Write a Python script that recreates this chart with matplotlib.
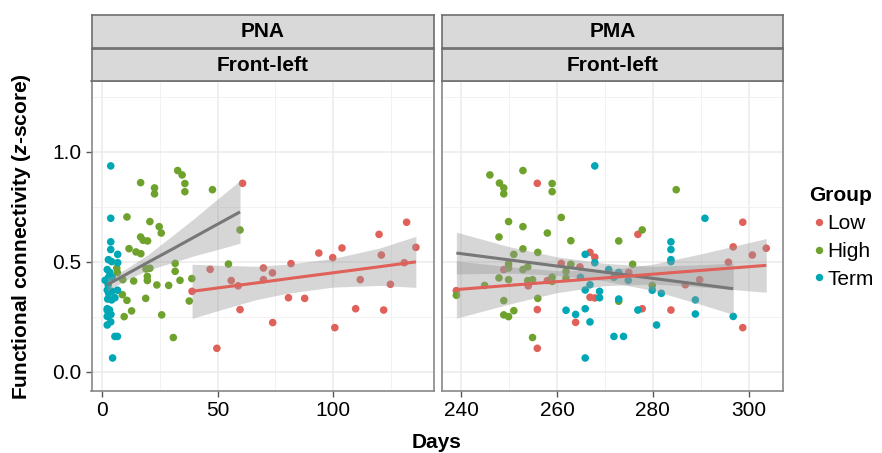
import matplotlib
matplotlib.use('Agg')
import matplotlib.pyplot as plt
from matplotlib.lines import Line2D

plt.rcParams['font.family'] = ['Liberation Sans', 'DejaVu Sans']
plt.rcParams['mathtext.fontset'] = 'custom'
plt.rcParams['mathtext.it'] = 'Liberation Sans:italic:bold'
plt.rcParams['mathtext.rm'] = 'Liberation Sans:bold'

# group colours
c_low = '#E0605A'
c_high = '#6FA22C'
c_term = '#00A7B5'

# ---- PNA panel points (days, z-score)
pna_low_day = [39.0, 46.8, 49.7, 55.9, 58.9, 59.7, 60.8, 69.8, 69.8, 73.7, 73.8, 80.6, 81.7, 87.6,
               93.7, 99.7, 100.6, 103.7, 109.6, 111.6, 119.7, 120.7, 121.7, 124.6, 130.6, 131.6, 135.6]
pna_low_fc = [0.365, 0.465, 0.106, 0.414, 0.39, 0.282, 0.856, 0.471, 0.418, 0.449, 0.223, 0.336, 0.491, 0.333,
              0.539, 0.518, 0.2, 0.562, 0.286, 0.418, 0.624, 0.53, 0.28, 0.397, 0.495, 0.679, 0.565]

pna_high_day = [32.8, 34.7, 35.9, 35.9, 16.8, 22.8, 22.8, 47.8, 10.9, 20.8, 24.8, 25.7, 59.7, 16.8,
                17.9, 19.8, 11.8, 14.8, 16.9, 31.7, 54.7, 31.7, 19.1, 20.8, 19.7, 19.7, 9.1, 13.8,
                23.8, 28.9, 33.8, 38.9, 8.9, 10.9, 19.0, 37.8, 12.9, 9.7, 25.9, 30.9, 6.5, 6.8]
pna_high_fc = [0.914, 0.894, 0.855, 0.818, 0.859, 0.835, 0.808, 0.827, 0.703, 0.682, 0.659, 0.63, 0.644, 0.612,
               0.597, 0.594, 0.559, 0.544, 0.536, 0.492, 0.489, 0.456, 0.467, 0.47, 0.433, 0.414, 0.418, 0.412,
               0.394, 0.392, 0.415, 0.423, 0.35, 0.324, 0.333, 0.321, 0.276, 0.25, 0.258, 0.155, 0.47, 0.45]

pna_term_day = [3.9, 3.9, 3.9, 3.9, 6.9, 2.9, 4.3, 6.9, 2.4, 3.0, 4.5, 3.5, 1.5, 2.8, 2.4, 4.3,
                5.7, 6.8, 3.0, 2.6, 4.3, 2.4, 3.4, 2.4, 3.0, 4.0, 2.4, 3.9, 2.4, 5.7, 6.8, 4.7]
pna_term_fc = [0.935, 0.697, 0.59, 0.555, 0.533, 0.509, 0.50, 0.495, 0.464, 0.429, 0.429, 0.451, 0.415, 0.395,
               0.371, 0.365, 0.336, 0.37, 0.356, 0.33, 0.326, 0.286, 0.28, 0.279, 0.262, 0.26, 0.251, 0.226,
               0.212, 0.16, 0.16, 0.062]

# ---- PMA panel points
pma_low_day = [239.0, 255.9, 248.9, 254.0, 260.9, 264.8, 266.9, 267.9, 255.9, 255.9, 263.9, 266.9, 267.9,
               258.0, 276.9, 275.0, 277.8, 283.8, 286.8, 289.8, 295.8, 296.8, 298.8, 300.8, 303.7, 298.8]
pma_low_fc = [0.368, 0.856, 0.464, 0.39, 0.492, 0.476, 0.542, 0.52, 0.282, 0.106, 0.224, 0.338, 0.335,
              0.414, 0.624, 0.451, 0.286, 0.28, 0.395, 0.418, 0.497, 0.567, 0.679, 0.53, 0.561, 0.2]

pma_high_day = [252.9, 246.0, 248.0, 259.0, 248.9, 259.0, 248.9, 284.9, 260.9, 249.9, 252.9, 258.0, 277.8,
                247.9, 262.9, 272.9, 252.9, 256.0, 251.0, 249.9, 249.9, 252.9, 253.9, 262.9, 275.8, 261.9,
                247.9, 249.9, 253.9, 254.9, 259.0, 259.0, 261.9, 244.9, 279.9, 239.0, 248.9, 256.0, 272.9,
                248.9, 249.9, 251.0, 254.9]
pma_high_fc = [0.914, 0.894, 0.857, 0.855, 0.835, 0.818, 0.808, 0.827, 0.701, 0.682, 0.659, 0.63, 0.644,
               0.612, 0.595, 0.594, 0.558, 0.542, 0.533, 0.489, 0.471, 0.464, 0.476, 0.488, 0.488, 0.455,
               0.426, 0.418, 0.414, 0.418, 0.43, 0.41, 0.426, 0.392, 0.392, 0.347, 0.323, 0.333, 0.32,
               0.258, 0.25, 0.277, 0.155]

pma_term_day = [267.9, 290.9, 283.8, 283.8, 265.9, 283.8, 283.8, 267.9, 270.8, 264.9, 271.9, 272.9, 274.9,
                266.9, 265.9, 268.9, 268.9, 279.9, 281.8, 272.9, 288.9, 265.9, 276.9, 261.9, 288.9, 263.9,
                296.8, 266.9, 280.8, 271.9, 273.9, 265.9]
pma_term_fc = pna_term_fc

# ---- fitted lines and confidence bands
pna_gray_day = [2.2, 10, 20, 30, 40, 50, 59.7]
pna_gray_fit = [0.394, 0.439, 0.497, 0.554, 0.612, 0.670, 0.726]
pna_gray_lo = [0.364, 0.414, 0.462, 0.494, 0.527, 0.555, 0.584]
pna_gray_hi = [0.424, 0.464, 0.532, 0.614, 0.697, 0.785, 0.868]

pna_red_day = [39.0, 52, 66.6, 80, 99.7, 120, 135.6]
pna_red_fit = [0.365, 0.383, 0.403, 0.422, 0.449, 0.477, 0.499]
pna_red_lo = [0.242, 0.283, 0.327, 0.356, 0.384, 0.392, 0.383]
pna_red_hi = [0.488, 0.483, 0.479, 0.488, 0.514, 0.562, 0.615]

pma_gray_day = [239.0, 250, 260, 270, 280, 290, 296.8]
pma_gray_fit = [0.539, 0.508, 0.480, 0.452, 0.424, 0.396, 0.377]
pma_gray_lo = [0.444, 0.448, 0.438, 0.412, 0.369, 0.306, 0.260]
pma_gray_hi = [0.634, 0.568, 0.522, 0.492, 0.479, 0.486, 0.494]

pma_red_day = [239.0, 250, 260, 270, 280, 290, 303.7]
pma_red_fit = [0.373, 0.392, 0.409, 0.426, 0.443, 0.460, 0.483]
pma_red_lo = [0.243, 0.307, 0.359, 0.391, 0.398, 0.385, 0.361]
pma_red_hi = [0.503, 0.477, 0.459, 0.461, 0.488, 0.535, 0.605]

strip_top = ['PNA', 'PMA']
strip_bottom = ['Front-left', 'Front-left']

FS = 15
W, H = 882, 453
fig = plt.figure(figsize=(W / 100, H / 100), dpi=100)


def box(x0, y0, x1, y1):
    return [x0 / W, 1 - y1 / H, (x1 - x0) / W, (y1 - y0) / H]


ax1 = fig.add_axes(box(91.5, 81, 433.5, 391))
ax2 = fig.add_axes(box(442, 81, 783, 391))

panels = [
    (ax1, (pna_low_day, pna_low_fc), (pna_high_day, pna_high_fc), (pna_term_day, pna_term_fc),
     (pna_gray_day, pna_gray_fit, pna_gray_lo, pna_gray_hi),
     (pna_red_day, pna_red_fit, pna_red_lo, pna_red_hi),
     (-4.4, 143.2), [0, 50, 100], [25, 75, 125]),
    (ax2, (pma_low_day, pma_low_fc), (pma_high_day, pma_high_fc), (pma_term_day, pma_term_fc),
     (pma_gray_day, pma_gray_fit, pma_gray_lo, pma_gray_hi),
     (pma_red_day, pma_red_fit, pma_red_lo, pma_red_hi),
     (236.0, 307.2), [240, 260, 280, 300], [250, 270, 290]),
]

for ax, low, high, term, gray, red, xlim, xt, xminor in panels:
    for v in xt:
        ax.axvline(v, color='#ebebeb', lw=1.1, zorder=0)
    for v in xminor:
        ax.axvline(v, color='#f2f2f2', lw=0.7, zorder=0)
    for v in [0, 0.5, 1.0]:
        ax.axhline(v, color='#ebebeb', lw=1.1, zorder=0)
    for v in [0.25, 0.75, 1.25]:
        ax.axhline(v, color='#f2f2f2', lw=0.7, zorder=0)

    ax.scatter(low[0], low[1], s=30, color=c_low, edgecolors='none', zorder=2)
    ax.scatter(high[0], high[1], s=30, color=c_high, edgecolors='none', zorder=2)
    ax.scatter(term[0], term[1], s=30, color=c_term, edgecolors='none', zorder=2)

    ax.fill_between(gray[0], gray[2], gray[3], color='#999999', alpha=0.4, lw=0, zorder=3)
    ax.fill_between(red[0], red[2], red[3], color='#999999', alpha=0.4, lw=0, zorder=3)
    ax.plot(gray[0], gray[1], color='#777777', lw=2.2, zorder=4, solid_capstyle='butt')
    ax.plot(red[0], red[1], color=c_low, lw=2.2, zorder=4, solid_capstyle='butt')

    ax.set_xlim(*xlim)
    ax.set_ylim(-0.088, 1.321)
    ax.set_xticks(xt)
    ax.set_yticks([0.0, 0.5, 1.0])
    ax.set_yticklabels(['0.0', '0.5', '1.0'])
    ax.tick_params(direction='out', length=4, width=1, color='#555555',
                   labelsize=FS, labelcolor='black', pad=3.5)
    for sp in ax.spines.values():
        sp.set_color('#888888')
        sp.set_linewidth(1.2)

ax2.tick_params(axis='y', left=False, labelleft=False)

# facet strips
for (x0, x1), top, bottom in zip([(91.5, 433.5), (442, 783)], strip_top, strip_bottom):
    for (y0, y1), label in zip([(14.5, 47.5), (48.5, 81)], [top, bottom]):
        s = fig.add_axes(box(x0, y0, x1, y1))
        s.set_facecolor('#d9d9d9')
        s.set_xticks([])
        s.set_yticks([])
        for sp in s.spines.values():
            sp.set_color('#6e6e6e')
            sp.set_linewidth(1.2)
        s.text(0.5, 0.47, label, ha='center', va='center', fontsize=FS,
               fontweight='bold', transform=s.transAxes)

fig.text(437 / W, 1 - 442 / H, 'Days', ha='center', va='center', fontsize=FS, fontweight='bold')
fig.text(22 / W, 1 - 237 / H, 'Functional connectivity ($\\it{z}$-score)', rotation=90,
         ha='center', va='center', fontsize=FS, fontweight='bold')

handles = [Line2D([], [], marker='o', ls='', color=c, markersize=4.3) for c in (c_low, c_high, c_term)]
leg = fig.legend(handles, ['Low', 'High', 'Term'], title='Group', loc='upper left',
                 bbox_to_anchor=(800.5 / W, 1 - 178 / H), frameon=False, fontsize=FS,
                 handletextpad=-0.1, labelspacing=0.42, handlelength=1.0, borderaxespad=0,
                 alignment='left')
leg.get_title().set_fontweight('bold')
leg.get_title().set_fontsize(FS)

fig.savefig('out.png', dpi=100)
